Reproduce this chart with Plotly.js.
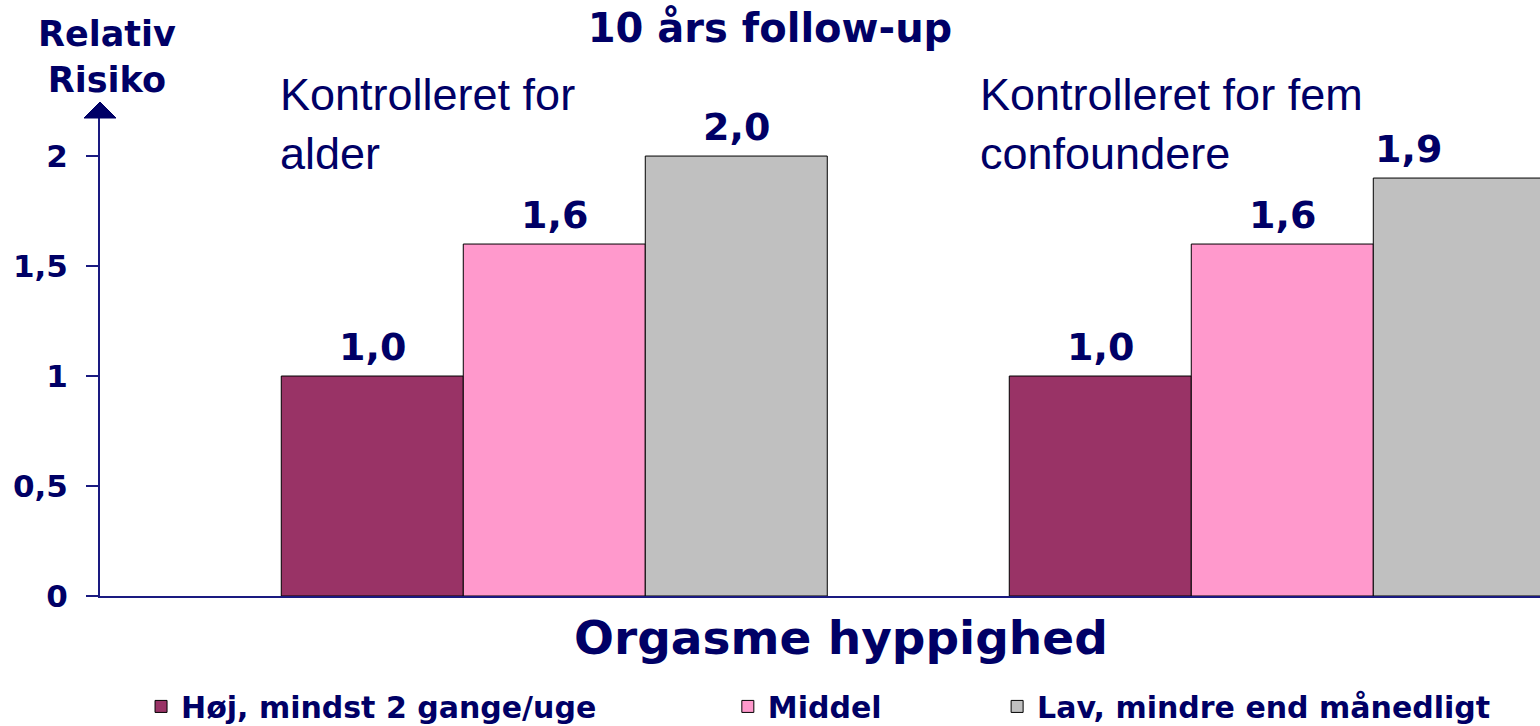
<!DOCTYPE html>
<html>
<head>
<meta charset="utf-8">
<script src="https://cdn.plot.ly/plotly-3.0.1.min.js"></script>
<style>html,body{margin:0;padding:0;background:#fff;}#chart{width:1540px;height:726px;}</style>
</head>
<body>
<div id="chart"></div>
<script>
const categories = ['Kontrolleret for alder', 'Kontrolleret for fem confoundere'];
const groupLabels = ['Kontrolleret for<br>alder', 'Kontrolleret for fem<br>confoundere'];
const seriesNames = ['Høj, mindst 2 gange/uge', 'Middel', 'Lav, mindre end månedligt'];
const hojValues = [1.0, 1.0];
const middelValues = [1.6, 1.6];
const lavValues = [2.0, 1.9];
const yTickVals = [0, 0.5, 1, 1.5, 2];
const chartTitle = '10 års follow-up';
const yTitle = 'Relativ<br>Risiko';
const xTitle = 'Orgasme hyppighed';

const NAVY = '#000066';
const LINE = '#1a1a80';
const colors = ['#993366', '#FF99CC', '#C0C0C0'];
const seriesValues = [hojValues, middelValues, lavValues];

const W = 1540, H = 726;
const margin = {l: 100, r: 0, t: 118, b: 130, autoexpand: false};
const xRange = [-0.624, 1.354];
const yRange = [0, 2.173];
const bargap = 0.25;
const plotW = W - margin.l - margin.r;
const pxPerUnit = plotW / (xRange[1] - xRange[0]);
const barPx = pxPerUnit * (1 - bargap) / seriesNames.length;

const legendIds = ['legend', 'legend2', 'legend3'];
const traces = seriesValues.map((vals, i) => ({
  type: 'bar',
  name: seriesNames[i],
  x: categories,
  y: vals,
  marker: {color: colors[i], line: {color: '#000000', width: 1}},
  legend: legendIds[i],
  hoverinfo: 'skip'
}));

const annotations = [];
seriesValues.forEach((vals, i) => {
  vals.forEach((v, j) => {
    const isClipped = (i === seriesNames.length - 1 && j === categories.length - 1);
    annotations.push({
      x: categories[j], y: v, xref: 'x', yref: 'y',
      text: v.toFixed(1).replace('.', ','),
      showarrow: false,
      xanchor: isClipped ? 'left' : 'center',
      yanchor: 'bottom',
      xshift: (i - 1) * barPx - (isClipped ? barPx / 2 : 0),
      yshift: 5,
      font: {family: 'DejaVu Sans', size: 38, color: NAVY, weight: 'bold'}
    });
  });
});
groupLabels.forEach((t, j) => {
  annotations.push({
    x: [0.1236, 0.6097][j], y: 1.106, xref: 'paper', yref: 'paper',
    text: t, showarrow: false, xanchor: 'left', yanchor: 'top', align: 'left',
    font: {family: 'Liberation Sans', size: 45, color: NAVY}
  });
});
annotations.push({
  x: 0.0049, y: 1.128, xref: 'paper', yref: 'paper', text: yTitle,
  showarrow: false, xanchor: 'center', yanchor: 'middle', align: 'center',
  font: {family: 'DejaVu Sans', size: 35, color: NAVY, weight: 'bold'}
});
annotations.push({
  x: 0.5146, y: -0.086, xref: 'paper', yref: 'paper', text: xTitle,
  showarrow: false, xanchor: 'center', yanchor: 'middle',
  font: {family: 'DejaVu Sans', size: 47, color: NAVY, weight: 'bold'}
});

const legendBase = {
  orientation: 'h', yanchor: 'middle', y: -0.231, xanchor: 'left',
  font: {family: 'DejaVu Sans', size: 30, color: NAVY, weight: 'bold'},
  bgcolor: 'rgba(0,0,0,0)'
};

const layout = {
  width: W, height: H,
  margin: margin,
  paper_bgcolor: '#ffffff', plot_bgcolor: '#ffffff',
  separators: ',.',
  barmode: 'group', bargap: bargap, bargroupgap: 0,
  showlegend: true,
  title: {text: chartTitle, x: 0.5, xref: 'container', xanchor: 'center', y: 0.961, yanchor: 'middle',
          font: {family: 'DejaVu Sans', size: 40, color: NAVY, weight: 'bold'}},
  xaxis: {type: 'category', range: xRange, showticklabels: false, ticks: '', showgrid: false, zeroline: false,
          showline: true, linecolor: LINE, linewidth: 2, fixedrange: true},
  yaxis: {range: yRange, tickvals: yTickVals, ticks: 'outside', ticklen: 12, tickwidth: 1.5, tickcolor: LINE,
          showgrid: false, zeroline: false, showline: true, linecolor: LINE, linewidth: 2,
          ticklabelstandoff: 12,
          tickfont: {family: 'DejaVu Sans', size: 31, color: NAVY, weight: 'bold'}},
  legend: Object.assign({}, legendBase, {x: 0.0285}),
  legend2: Object.assign({}, legendBase, {x: 0.436}),
  legend3: Object.assign({}, legendBase, {x: 0.623}),
  annotations: annotations,
  shapes: [{
    type: 'path', xref: 'paper', yref: 'paper', xsizemode: 'pixel', ysizemode: 'pixel',
    xanchor: 0, yanchor: 1, path: 'M-16,0 L16,0 L0,16 Z',
    fillcolor: NAVY, line: {color: NAVY, width: 1}
  }]
};

Plotly.newPlot('chart', traces, layout, {displayModeBar: false, staticPlot: true});
</script>
</body>
</html>
